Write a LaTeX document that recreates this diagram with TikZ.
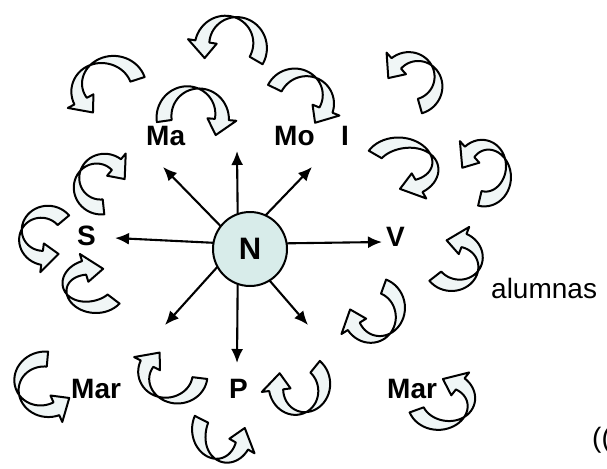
\documentclass[tikz,border=0pt]{standalone}
\usepackage{fontspec}
\setmainfont{Liberation Sans}
\usetikzlibrary{arrows.meta}
\definecolor{hubfill}{RGB}{216,236,234}
\definecolor{ribfill}{RGB}{240,246,246}

% A twisted ribbon arrow running along an ellipse around the pic origin.
% #1 = angle of the tail end, #2 = angle of the arrowhead base,
% #3, #4 = the two radii. Angles grow counter-clockwise on the page.
\tikzset{
  pics/curl/.style n args={4}{code={
    \pgfmathsetmacro\ca{#1}
    \pgfmathsetmacro\cb{#2}
    \pgfmathsetmacro\rx{#3}
    \pgfmathsetmacro\ry{#4}
    \pgfmathsetmacro\tipang{#2+sign(#2-#1)*17/((#3+#4)/2)*57.3}
    \begin{scope}[yscale=-1]
      \draw[ribbon]
        plot[domain=0:1,samples=36]
          ({(\rx+7.5*cos(160*\x))*cos(\ca+\x*(\cb-\ca))},
           {(\ry+7.5*cos(160*\x))*sin(\ca+\x*(\cb-\ca))})
        -- ({(\rx-14.5)*cos(\cb)},{(\ry-14.5)*sin(\cb)})
        -- ({\rx*cos(\tipang)},{\ry*sin(\tipang)})
        -- ({(\rx+14.5)*cos(\cb)},{(\ry+14.5)*sin(\cb)})
        -- plot[domain=1:0,samples=36]
          ({(\rx-7.5*cos(160*\x))*cos(\ca+\x*(\cb-\ca))},
           {(\ry-7.5*cos(160*\x))*sin(\ca+\x*(\cb-\ca))})
        -- cycle;
    \end{scope}
  }}
}

\begin{document}
\begin{tikzpicture}[x=1pt,y=-1pt,
  lbl/.style={font=\fontsize{28}{30}\selectfont\bfseries, inner sep=0pt, anchor=base west},
  txt/.style={font=\fontsize{28}{30}\selectfont, inner sep=0pt, anchor=base west},
  ray/.style={line width=2.1pt, -{Latex[length=14pt,width=12pt]}},
  ribbon/.style={draw=black, line width=2pt, fill=ribfill, line join=round},
  hub/.style={circle, draw=black, line width=2pt, fill=hubfill, minimum size=74pt,
              inner sep=0pt, font=\fontsize{31}{33}\selectfont\bfseries}]
  \useasboundingbox (0,0) rectangle (607,468);
  \clip (0,0) rectangle (607,468);

  % labels around the hub
  \node[lbl] (ma)   at (146,145) {Ma};
  \node[lbl] (mo)   at (274,145) {Mo};
  \node[lbl] (i)    at (341,145) {I};
  \node[lbl] (s)    at (77,245)  {S};
  \node[lbl] (v)    at (386,246) {V};
  \node[lbl] (p)    at (229,398) {P};
  \node[lbl] (marl) at (71,398)  {Mar};
  \node[lbl] (marr) at (387,398) {Mar};
  \node[txt] (alumnas) at (491,298) {alumnas};
  \node[txt] (cut)  at (592,447) {((C};

  % rays from the hub
  \coordinate (o)  at (238,244);
  \coordinate (tn)  at (237,151);
  \coordinate (ts)  at (237,363);
  \coordinate (tw)  at (115,238);
  \coordinate (te)  at (382,242);
  \coordinate (tnw) at (163,167);
  \coordinate (tne) at (312,167);
  \coordinate (tsw) at (165,325);
  \coordinate (tse) at (308,325);
  \foreach \t in {tn,ts,tw,te,tnw,tne,tsw,tse}
    \draw[ray] (o) -- (\t);

  \node[hub] (hub) at (250,249) {N};

  % ribbon arrows
  \pic at (231,46)  {curl={-30}{171}{29}{29}};
  \pic at (108,88)  {curl={18}{208}{31}{28}};
  \pic at (193,117) {curl={188}{-5}{29}{29}};
  \pic at (300,100) {curl={154}{-22}{28}{27}};
  \pic at (413,82)  {curl={-74}{132}{25}{25}};
  \pic at (403,166) {curl={150}{-60}{32}{23}};
  \pic at (485,172) {curl={-103}{132}{23}{27}};
  \pic at (101,183) {curl={276}{50}{24}{24}};
  \pic at (45,235)  {curl={40}{263}{24}{23}};
  \pic at (92,287)  {curl={323}{107}{27}{20}};
  \pic at (45,385)  {curl={85}{294}{28}{26}};
  \pic at (172,375) {curl={353}{153}{28}{25}};
  \pic at (222,432) {curl={153}{330}{23}{28}};
  \pic at (300,387) {curl={51}{-173}{24}{26}};
  \pic at (375,312) {curl={70}{-148}{25}{27}};
  \pic at (455,262) {curl={218}{429}{25}{23}};
  \pic at (443,402) {curl={200}{412}{28}{23}};
\end{tikzpicture}
\end{document}
